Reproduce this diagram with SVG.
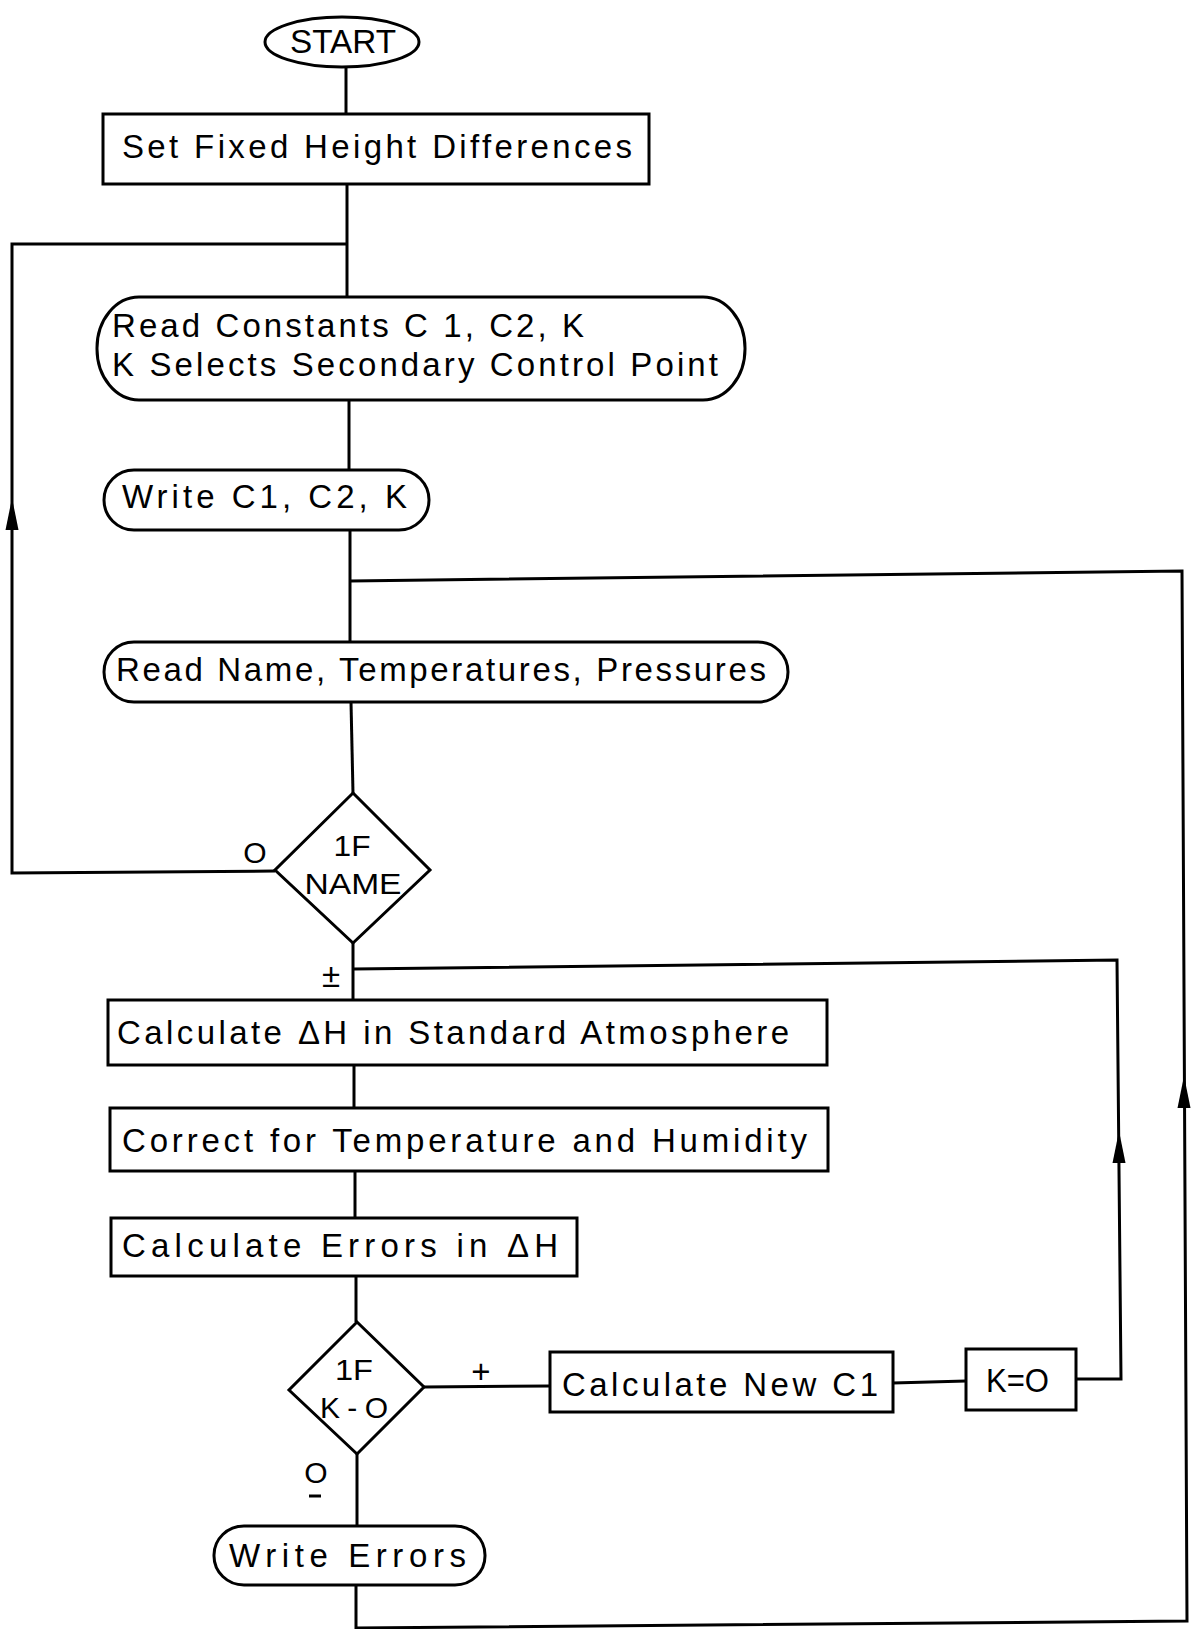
<svg xmlns="http://www.w3.org/2000/svg" width="1199" height="1629" viewBox="0 0 1199 1629">
<defs>
<style>
.sh{fill:none;stroke:#000;stroke-width:3}
.ln{fill:none;stroke:#000;stroke-width:3;stroke-linejoin:miter}
.t{font-family:"Liberation Sans","DejaVu Sans",sans-serif;font-size:33px;fill:#000}
.c{text-anchor:middle}
.s{font-size:30px}
</style>
<path id="arrUp" d="M0 0 L6.5 32 L-6.5 32 Z" fill="#000"/>
</defs>
<rect x="0" y="0" width="1199" height="1629" fill="#fff"/>

<g id="connectors">
<path class="ln" d="M346 67 V114"/>
<path class="ln" d="M347 185 V297"/>
<path class="ln" d="M275 871 L12 873 L12 244 L347 244"/>
<use href="#arrUp" x="12" y="498"/>
<path class="ln" d="M349 400 V470"/>
<path class="ln" d="M350 530 V642"/>
<path class="ln" d="M356 1585 L356 1628 L1187 1621 L1182 571 L350 581"/>
<use href="#arrUp" x="1184" y="1076"/>
<path class="ln" d="M351 702 L353 793"/>
<path class="ln" d="M353 943 V1000"/>
<path class="ln" d="M1076 1379 L1121 1379 L1117 960 L353 969"/>
<use href="#arrUp" x="1119" y="1131"/>
<path class="ln" d="M354 1065 V1108"/>
<path class="ln" d="M355 1170 V1218"/>
<path class="ln" d="M356 1276 V1322"/>
<path class="ln" d="M424 1387 L550 1386"/>
<path class="ln" d="M893 1383 L966 1381"/>
<path class="ln" d="M357 1454 V1526"/>
</g>

<g id="start">
<ellipse class="sh" cx="342" cy="42" rx="77" ry="25"/>
<text class="t c" x="343" y="53" font-size="31" textLength="106" lengthAdjust="spacingAndGlyphs">START</text>
</g>

<g id="set-fixed">
<rect class="sh" x="103" y="114" width="546" height="70"/>
<text class="t" x="122" y="158" textLength="510" lengthAdjust="spacing">Set Fixed Height Differences</text>
</g>

<g id="read-constants">
<rect class="sh" x="97" y="297" width="648" height="103" rx="42" ry="51"/>
<text class="t" x="112" y="337" textLength="472" lengthAdjust="spacing">Read Constants  C 1, C2, K</text>
<text class="t" x="112" y="376" textLength="606" lengthAdjust="spacing">K Selects Secondary Control Point</text>
</g>

<g id="write-constants">
<rect class="sh" x="104" y="470" width="325" height="60" rx="30" ry="30"/>
<text class="t" x="122" y="508" textLength="285" lengthAdjust="spacing">Write  C1, C2, K</text>
</g>

<g id="read-name">
<rect class="sh" x="104" y="642" width="684" height="60" rx="30" ry="30"/>
<text class="t" x="116" y="681" textLength="650" lengthAdjust="spacing">Read Name, Temperatures, Pressures</text>
</g>

<g id="if-name">
<path class="sh" d="M353 793 L430 870 L353 943 L275 870 Z"/>
<text class="t c s" x="352" y="856" textLength="37" lengthAdjust="spacingAndGlyphs">1F</text>
<text class="t c s" x="353" y="894" textLength="97" lengthAdjust="spacingAndGlyphs">NAME</text>
<text class="t c s" x="255" y="863">O</text>
<text class="t c" x="331" y="987" font-size="28">±</text>
</g>

<g id="calc-dh">
<rect class="sh" x="108" y="1000" width="719" height="65"/>
<text class="t" x="117" y="1044" textLength="672" lengthAdjust="spacing">Calculate ΔH in  Standard  Atmosphere</text>
</g>

<g id="correct">
<rect class="sh" x="110" y="1108" width="718" height="63"/>
<text class="t" x="122" y="1152" textLength="685" lengthAdjust="spacing">Correct  for  Temperature  and  Humidity</text>
</g>

<g id="calc-errors">
<rect class="sh" x="111" y="1218" width="466" height="58"/>
<text class="t" x="122" y="1257" textLength="436" lengthAdjust="spacing">Calculate  Errors  in  ΔH</text>
</g>

<g id="if-k">
<path class="sh" d="M357 1322 L424 1387 L357 1454 L289 1390 Z"/>
<text class="t c s" x="354" y="1380" textLength="38" lengthAdjust="spacingAndGlyphs">1F</text>
<text class="t c s" x="354" y="1418" textLength="68" lengthAdjust="spacing">K-O</text>
<text class="t c" x="481" y="1383" font-size="26">+</text>
<text class="t c s" x="316" y="1483">O</text>
<path class="ln" d="M309 1496 H321"/>
</g>

<g id="calc-c1">
<rect class="sh" x="550" y="1352" width="343" height="60"/>
<text class="t" x="562" y="1396" textLength="316" lengthAdjust="spacing">Calculate  New  C1</text>
</g>

<g id="k-zero">
<rect class="sh" x="966" y="1349" width="110" height="61"/>
<text class="t" x="986" y="1392" textLength="63" lengthAdjust="spacingAndGlyphs">K=O</text>
</g>

<g id="write-errors">
<rect class="sh" x="214" y="1526" width="271" height="59" rx="30" ry="29"/>
<text class="t" x="229" y="1567" textLength="237" lengthAdjust="spacing">Write  Errors</text>
</g>
</svg>
